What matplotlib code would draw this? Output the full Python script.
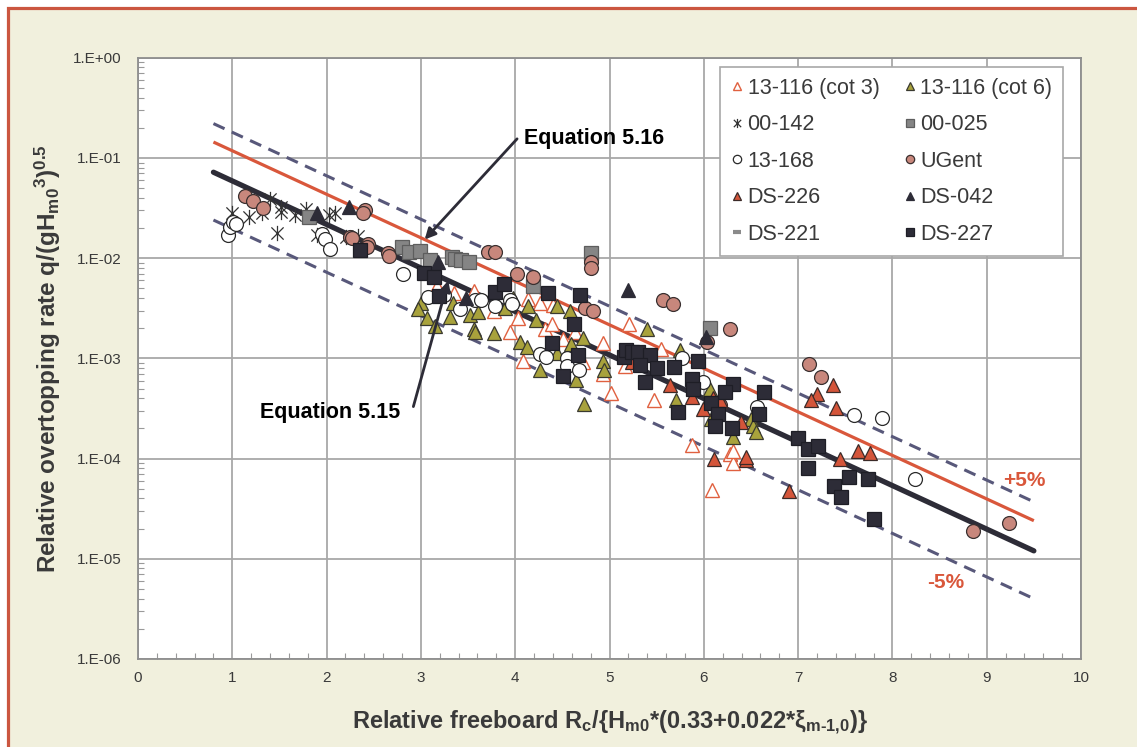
import numpy as np
import matplotlib
matplotlib.use("Agg")
import matplotlib.pyplot as plt
from matplotlib.path import Path
from matplotlib.patches import Rectangle
from matplotlib.ticker import FixedLocator, FuncFormatter, MultipleLocator

plt.rcParams['font.family'] = ['Liberation Sans', 'DejaVu Sans']
plt.rcParams['mathtext.fontset'] = 'custom'
plt.rcParams['mathtext.bf'] = 'Liberation Sans:bold'
plt.rcParams['mathtext.rm'] = 'Liberation Sans:bold'
plt.rcParams['mathtext.default'] = 'bf'

# ---- data ----
cot3_x = [3.17, 3.35, 3.56, 3.77, 3.94, 4.03, 4.14, 4.26, 4.08, 4.32, 4.39, 4.40, 4.51,
          4.63, 4.72, 4.93, 4.93, 5.02, 5.21, 5.47, 5.55, 5.16, 5.87, 6.28, 6.31, 6.31, 6.09]
cot3_y = [5.3e-3, 4.5e-3, 4.7e-3, 3.0e-3, 1.84e-3, 2.5e-3, 3.9e-3, 3.6e-3, 9.4e-4, 1.95e-3,
          2.2e-3, 3.4e-3, 1.55e-3, 1.84e-3, 9.2e-4, 1.42e-3, 7.0e-4, 4.5e-4, 2.2e-3, 3.8e-4,
          1.24e-3, 8.4e-4, 1.36e-4, 1.12e-4, 9.0e-5, 1.2e-4, 4.9e-5]

cot6_x = [3.00, 2.97, 3.06, 3.15, 3.34, 3.31, 3.52, 3.61, 3.56, 3.57, 3.77, 3.89, 3.98,
          4.14, 4.05, 4.12, 4.22, 4.26, 4.44, 4.59, 4.65, 4.72, 4.73, 4.93, 4.94, 4.44,
          4.58, 5.40, 5.75, 6.07, 5.70, 6.08, 6.50, 6.52, 6.55, 6.31]
cot6_y = [3.6e-3, 3.1e-3, 2.5e-3, 2.1e-3, 3.6e-3, 2.6e-3, 2.7e-3, 2.9e-3, 1.96e-3, 1.83e-3,
          1.79e-3, 3.2e-3, 4.0e-3, 3.3e-3, 1.47e-3, 1.3e-3, 2.4e-3, 7.7e-4, 1.12e-3, 1.4e-3,
          6.1e-4, 1.58e-3, 3.5e-4, 9.4e-4, 7.7e-4, 3.3e-3, 3.0e-3, 1.97e-3, 1.21e-3, 5.0e-4,
          3.8e-4, 2.5e-4, 2.5e-4, 2.1e-4, 1.85e-4, 1.64e-4]

s142_x = [1.00, 1.18, 1.31, 1.40, 1.52, 1.52, 1.66, 1.78, 2.03, 2.09, 1.47, 1.90, 2.33, 2.21]
s142_y = [0.028, 0.0259, 0.028, 0.0386, 0.0326, 0.029, 0.0269, 0.0307, 0.0269, 0.028,
          0.0179, 0.017, 0.0166, 0.0161]

s025_x = [1.81, 2.80, 2.87, 2.99, 3.10, 3.33, 3.36, 3.43, 3.51, 4.19, 4.80, 6.07]
s025_y = [0.0257, 0.0130, 0.0116, 0.0119, 0.0096, 0.0103, 0.0099, 0.0096, 0.0091, 0.0053,
          0.0113, 0.0020]

s168_x = [0.95, 0.98, 1.01, 1.04, 1.95, 1.98, 2.04, 2.81, 3.08, 3.24, 3.41, 3.57, 3.64,
          3.79, 3.94, 3.97, 4.26, 4.33, 4.55, 4.55, 4.68, 5.77, 5.99, 6.56, 7.59, 7.89, 8.24]
s168_y = [0.017, 0.0206, 0.0231, 0.022, 0.0174, 0.0155, 0.0123, 0.0069, 0.0041, 0.0043,
          0.0031, 0.0038, 0.0038, 0.0033, 0.0038, 0.0035, 0.0011, 0.00104, 0.0010, 0.00084,
          0.00076, 0.0010, 0.00058, 3.3e-4, 2.7e-4, 2.55e-4, 6.3e-5]

ugent_x = [1.13, 1.22, 1.33, 2.41, 2.39, 2.25, 2.27, 2.44, 2.43, 2.65, 2.66, 3.71, 3.79,
           4.02, 4.19, 4.80, 4.80, 4.74, 4.83, 5.57, 5.67, 6.28, 6.03, 7.12, 7.24, 6.17,
           8.85, 9.24]
ugent_y = [0.042, 0.037, 0.032, 0.030, 0.028, 0.0164, 0.0158, 0.0138, 0.0128, 0.0112,
           0.0106, 0.0116, 0.0116, 0.0069, 0.0065, 0.0092, 0.0080, 0.0032, 0.0030, 0.0038,
           0.0035, 0.00195, 0.00147, 0.00087, 0.00065, 3.4e-4, 1.9e-5, 2.3e-5]

ds226_x = [5.64, 5.87, 5.99, 6.10, 6.17, 6.39, 6.11, 6.45, 6.45, 7.20, 7.14, 7.37, 7.40,
           7.64, 7.76, 7.44, 6.90, 5.24]
ds226_y = [5.4e-4, 4.1e-4, 3.1e-4, 4.0e-4, 3.8e-4, 2.3e-4, 1.0e-4, 9.7e-5, 1.04e-4, 4.4e-4,
           3.8e-4, 5.4e-4, 3.2e-4, 1.18e-4, 1.14e-4, 1.0e-4, 4.7e-5, 9.2e-4]

ds042_x = [1.90, 2.24, 3.18, 3.48, 5.20, 6.02]
ds042_y = [0.0282, 0.0321, 0.0092, 0.0040, 0.0048, 0.00163]

ds221_x = []
ds221_y = []

ds227_x = [2.35, 3.03, 3.14, 3.19, 3.79, 3.88, 4.35, 4.69, 4.62, 4.39, 4.67, 4.51, 5.15,
           5.18, 5.24, 5.30, 5.43, 5.32, 5.50, 5.38, 5.68, 5.94, 5.88, 5.89, 5.73, 6.31,
           6.22, 6.08, 6.15, 6.12, 6.30, 6.64, 6.59, 7.00, 7.11, 7.21, 7.10, 7.38, 7.46,
           7.54, 7.74, 7.81]
ds227_y = [0.0120, 0.0071, 0.0065, 0.0042, 0.0046, 0.0055, 0.0045, 0.0043, 0.0022, 0.00143,
           0.00108, 0.00066, 0.00104, 0.00121, 0.00116, 0.00115, 0.00108, 0.00086, 0.00081,
           0.00058, 0.00082, 0.00094, 0.00062, 0.00049, 0.00029, 0.00056, 0.00046, 0.00036,
           0.00028, 0.00021, 0.0002, 0.00046, 0.00028, 0.00016, 0.000126, 0.000135, 8.0e-5,
           5.3e-5, 4.1e-5, 6.6e-5, 6.3e-5, 2.5e-5]

# fitted lines (end points)
fit_x = [0.8, 9.5]
eq515_y = [0.072, 1.2e-5]
eq516_y = [0.144, 2.4e-5]
upper_y = [0.22, 3.7e-5]
lower_y = [0.024, 4.0e-6]

x_ticks = list(range(0, 11))
y_ticks = [1e-6, 1e-5, 1e-4, 1e-3, 1e-2, 1e-1, 1e0]

# ---- colours ----
CREAM = '#F1F0DD'
FRAME = '#CB5640'
DARK = '#2D2C37'
RED = '#D9573B'
DASH = '#58587A'
TXT = '#3A3A3A'

star = Path([(-1, -1), (1, 1), (-1, 1), (1, -1), (0, -1.25), (0, 1.25)],
            [Path.MOVETO, Path.LINETO] * 3)

fig = plt.figure(figsize=(11.37, 7.47), dpi=100)
fig.patch.set_facecolor('white')
fig.add_artist(Rectangle((8.3 / 1137, -0.1), 1.2, 1.1 - 8 / 747, transform=fig.transFigure,
                         facecolor=CREAM, edgecolor=FRAME, lw=2.3, zorder=-10))

ax = fig.add_axes([138 / 1137, 1 - 659 / 747, 943 / 1137, 601.3 / 747])
ax.set_facecolor('white')
ax.set_yscale('log')
ax.set_xlim(0, 10)
ax.set_ylim(1e-6, 1)

# reference lines
ax.plot(fit_x, upper_y, color=DASH, lw=2.2, ls=(0, (4, 2.6)), zorder=3)
ax.plot(fit_x, lower_y, color=DASH, lw=2.2, ls=(0, (4, 2.6)), zorder=3)
ax.plot(fit_x, eq516_y, color=RED, lw=2.3, zorder=3, solid_capstyle='butt')
ax.plot(fit_x, eq515_y, color=DARK, lw=3.8, zorder=3, solid_capstyle='round')

ms = 10
mew = 0.9
h_cot3, = ax.plot(cot3_x, cot3_y, ls='none', marker='^', ms=ms, mfc='white', mec='#E0603F',
                  mew=1.0, label='13-116 (cot 3)', zorder=4)
h_cot6, = ax.plot(cot6_x, cot6_y, ls='none', marker='^', ms=ms, mfc='#A8A23C', mec='#3A3A30',
                  mew=mew, label='13-116 (cot 6)', zorder=4)
h_142, = ax.plot(s142_x, s142_y, ls='none', marker=star, ms=11, mfc='none', mec='#333333',
                 mew=0.9, label='00-142', zorder=4)
h_025, = ax.plot(s025_x, s025_y, ls='none', marker='s', ms=9.5, mfc='#858585', mec='#5E5E5E',
                 mew=mew, label='00-025', zorder=4)
h_168, = ax.plot(s168_x, s168_y, ls='none', marker='o', ms=ms, mfc='white', mec='#2A2A2A',
                 mew=0.9, label='13-168', zorder=4)
h_ug, = ax.plot(ugent_x, ugent_y, ls='none', marker='o', ms=ms, mfc='#C8877C', mec='#3A3030',
                mew=mew, label='UGent', zorder=4)
h_226, = ax.plot(ds226_x, ds226_y, ls='none', marker='^', ms=ms, mfc='#D4553A', mec='#3A2A28',
                 mew=mew, label='DS-226', zorder=4)
h_042, = ax.plot(ds042_x, ds042_y, ls='none', marker='^', ms=ms, mfc=DARK, mec=DARK,
                 mew=mew, label='DS-042', zorder=4)
h_221, = ax.plot(ds221_x, ds221_y, ls='none', marker='_', ms=ms, mec='#8A8A8A',
                 mew=3, label='DS-221', zorder=4)
h_227, = ax.plot(ds227_x, ds227_y, ls='none', marker='s', ms=9.5, mfc=DARK, mec='#1E1E26',
                 mew=mew, label='DS-227', zorder=4)

# axes styling
for sp in ax.spines.values():
    sp.set_color('#8E8E8E')
    sp.set_linewidth(1.3)
ax.xaxis.set_major_locator(FixedLocator(x_ticks))
ax.xaxis.set_minor_locator(MultipleLocator(0.2))
ax.yaxis.set_major_locator(FixedLocator(y_ticks))
ax.yaxis.set_minor_locator(FixedLocator(
    [m * 10.0 ** e for e in range(-6, 0) for m in range(2, 10)]))
ax.yaxis.set_minor_formatter(FuncFormatter(lambda v, p: ''))
ax.yaxis.set_major_formatter(FuncFormatter(
    lambda v, p: '1.E{:+03d}'.format(int(round(np.log10(v))))))
ax.tick_params(which='major', length=0, labelsize=11, labelcolor=TXT)
ax.tick_params(axis='y', which='major', pad=12)
ax.tick_params(axis='x', which='major', pad=9)
ax.tick_params(which='minor', direction='in', length=4, color='#9A9A9A', width=0.8)
ax.grid(True, which='major', color='#A8A8A8', lw=1.3)
ax.set_axisbelow(True)

ax.set_xlabel(r'Relative freeboard R$_c$/{H$_{m0}$*(0.33+0.022*ξ$_{m\text{-}1{,}0}$)}',
              fontsize=17, fontweight='bold', color=TXT)
ax.set_ylabel(r'Relative overtopping rate q/(gH$_{m0}$$^3$)$^{0.5}$',
              fontsize=17.5, fontweight='bold', color=TXT)
ax.xaxis.set_label_coords(0.5, -0.083)
ax.yaxis.set_label_coords(-0.080, 0.5)

# annotations
def on_line(x, ys):
    return 10 ** np.interp(x, fit_x, np.log10(ys))

ax.text(4.09, 0.158, 'Equation 5.16', fontsize=15.5, fontweight='bold', color='black',
        ha='left', va='center')
ax.annotate('', xy=(3.04, on_line(3.04, eq516_y)), xytext=(4.02, 0.155),
            arrowprops=dict(arrowstyle='-|>', color=DARK, lw=2, mutation_scale=16,
                            shrinkA=0, shrinkB=0), zorder=6)
ax.text(2.78, 2.9e-4, 'Equation 5.15', fontsize=15.5, fontweight='bold', color='black',
        ha='right', va='center')
ax.annotate('', xy=(3.29, on_line(3.29, eq515_y)), xytext=(2.92, 3.3e-4),
            arrowprops=dict(arrowstyle='-|>', color=DARK, lw=2, mutation_scale=16,
                            shrinkA=0, shrinkB=0), zorder=6)
ax.text(9.40, 6.1e-5, '+5%', fontsize=15, fontweight='bold', color=RED,
        ha='center', va='center')
ax.text(8.57, 5.85e-6, '-5%', fontsize=15, fontweight='bold', color=RED,
        ha='center', va='center')

handles = [h_cot3, h_142, h_168, h_226, h_221, h_cot6, h_025, h_ug, h_042, h_227]
leg = ax.legend(handles=handles, ncol=2, loc='upper right', bbox_to_anchor=(0.981, 0.9845),
                fontsize=15.5, frameon=True, fancybox=False, framealpha=1, edgecolor='#A8A8A8',
                markerscale=0.6, handlelength=0.6, handletextpad=0.2, columnspacing=1.1,
                labelspacing=0.72, borderpad=0.5, borderaxespad=0)
leg.get_frame().set_linewidth(1.2)
for t in leg.get_texts():
    t.set_color(TXT)
leg.set_zorder(10)

fig.savefig('out.png', dpi=100)
